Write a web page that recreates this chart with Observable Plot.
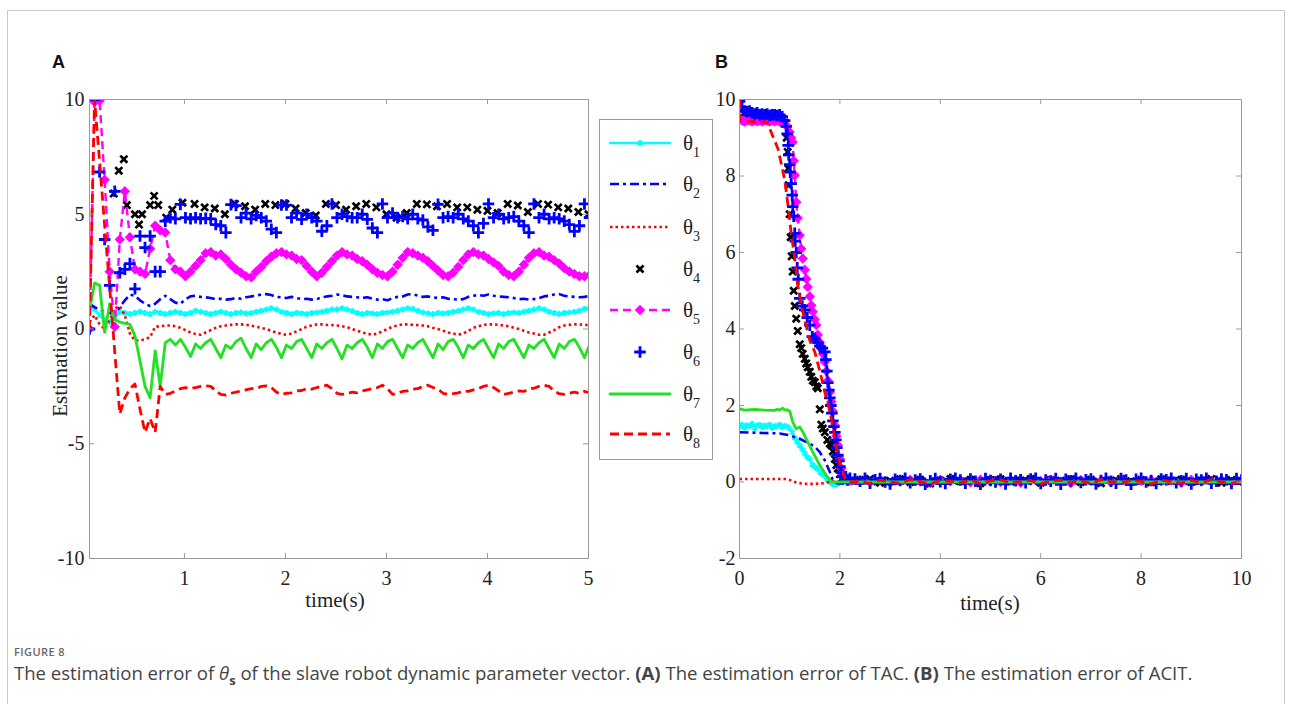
<!DOCTYPE html>
<html><head><meta charset="utf-8">
<script src="https://cdn.jsdelivr.net/npm/d3@7"></script>
<script src="https://cdn.jsdelivr.net/npm/@observablehq/plot@0.6"></script>
<style>
html,body{margin:0;padding:0;background:#fff;}
#root{position:relative;width:1293px;height:704px;overflow:hidden;background:#fff;}
#frame{position:absolute;left:7px;top:10px;width:1278px;height:700px;border:1px solid #c9c9c9;box-sizing:border-box;}
.abs{position:absolute;}
.panel{position:absolute;font:bold 18px "Liberation Sans",Arial,sans-serif;color:#111;}
.serif{font-family:"Liberation Serif","Times New Roman",serif;color:#222;}
#legend{position:absolute;left:599px;top:119px;width:114px;height:341px;border:1px solid #9a9a9a;box-sizing:border-box;background:#fff;}
#figlab{position:absolute;left:14px;top:646px;font:600 11px "Open Sans",sans-serif;line-height:12px;color:#666;letter-spacing:0.4px;}
#caption{position:absolute;left:14px;top:664px;font:16px "Open Sans",sans-serif;line-height:17px;color:#444;white-space:nowrap;}
#caption sub{font-size:70%;line-height:0;}
</style></head>
<body><div id="root">
<div id="frame"></div>
<div class="panel" style="left:52px;top:52px">A</div>
<div class="panel" style="left:715px;top:52px">B</div>
<div id="plotA" class="abs" style="left:0;top:0"></div>
<div id="plotB" class="abs" style="left:700px;top:0"></div>
<div id="legend"></div>
<div class="abs serif" style="left:60px;top:346px;font-size:21px;transform:translate(-50%,-50%) rotate(-90deg);white-space:nowrap">Estimation value</div>
<div class="abs serif" style="left:335px;top:600px;font-size:21px;transform:translate(-50%,-50%);white-space:nowrap">time(s)</div>
<div class="abs serif" style="left:990px;top:603px;font-size:21px;transform:translate(-50%,-50%);white-space:nowrap">time(s)</div>
<div id="figlab">FIGURE 8</div>
<div id="caption">The estimation error of <i>θ</i><sub><b>s</b></sub> of the slave robot dynamic parameter vector. <b>(A)</b> The estimation error of TAC. <b>(B)</b> The estimation error of ACIT.</div>
</div>
<script>
// ---------------- Panel A data (sample grid t = 0.06 + 0.05 i) ----------------
const tA = d3.range(100).map(i => +(0.06 + 0.05 * i).toFixed(2));
const theta1A = [1.0,0.85,0.6,0.4,0.3,0.5,0.75,0.7,0.65,0.7, 0.75,0.7,0.65,0.75,0.7,0.65,0.7,0.75,0.7,0.65, 0.7,0.8,0.75,0.7,0.65,0.7,0.75,0.7,0.65,0.7, 0.72,0.68,0.7,0.75,0.8,0.85,0.9,0.85,0.75,0.7, 0.65,0.7,0.68,0.65,0.7,0.72,0.75,0.8,0.85,0.85, 0.9,0.85,0.78,0.7,0.65,0.7,0.68,0.65,0.7,0.72, 0.75,0.8,0.85,0.9,0.88,0.8,0.72,0.68,0.65,0.7, 0.68,0.7,0.75,0.78,0.85,0.9,0.85,0.75,0.7,0.65, 0.68,0.7,0.65,0.7,0.72,0.7,0.75,0.8,0.85,0.9, 0.85,0.75,0.7,0.65,0.7,0.72,0.75,0.8,0.88,0.9];
const theta2A = [1.1,0.95,0.85,0.75,0.7,0.65,0.95,1.25,1.5,1.45, 1.25,1.1,1.0,1.1,1.3,1.45,1.3,1.15,1.1,1.3, 1.42,1.45,1.4,1.38,1.35,1.3,1.32,1.28,1.3,1.35, 1.32,1.38,1.42,1.45,1.5,1.52,1.48,1.4,1.38,1.35, 1.4,1.35,1.3,1.32,1.28,1.3,1.38,1.42,1.45,1.5, 1.48,1.42,1.4,1.38,1.35,1.38,1.32,1.28,1.3,1.25, 1.35,1.4,1.42,1.5,1.52,1.45,1.4,1.42,1.38,1.35, 1.38,1.32,1.3,1.28,1.3,1.4,1.45,1.48,1.45,1.5, 1.45,1.42,1.4,1.38,1.35,1.3,1.32,1.28,1.3,1.35, 1.42,1.45,1.5,1.52,1.45,1.42,1.4,1.38,1.4,1.45];
const theta3A = [0.3,0.6,0.2,0.0,0.4,0.9,1.0,0.6,-0.2,-0.5, -0.5,-0.45,-0.35,0.1,0.12,0.15,0.15,0.12,0.05,-0.05, -0.15,-0.22,-0.25,-0.15,-0.05,0.05,0.12,0.15,0.18,0.2, 0.2,0.18,0.15,0.1,0.05,0.0,-0.08,-0.15,-0.22,-0.25, -0.2,-0.1,0.0,0.1,0.15,0.2,0.2,0.18,0.17,0.15, 0.12,0.08,0.0,-0.08,-0.15,-0.2,-0.25,-0.2,-0.1,0.0, 0.1,0.15,0.2,0.2,0.18,0.17,0.15,0.12,0.05,0.0, -0.08,-0.15,-0.2,-0.25,-0.2,-0.08,0.05,0.12,0.18,0.2, 0.2,0.18,0.15,0.12,0.05,0.0,-0.08,-0.15,-0.2,-0.25, -0.25,-0.15,-0.05,0.08,0.15,0.18,0.2,0.2,0.18,0.17];
const t4A = [0.30,0.35,0.40,0.43,0.51,0.55,0.58,0.66,0.70,0.74,0.82,0.88,0.98, 1.1,1.2,1.3,1.4,1.5,1.6,1.7,1.8,1.9,2.0, 2.1,2.2,2.3,2.4,2.5,2.6,2.7,2.8,2.9,3.0, 3.1,3.2,3.3,3.4,3.5,3.6,3.7,3.8,3.9,4.0, 4.1,4.2,4.3,4.4,4.5,4.6,4.7,4.8,4.9,5.0];
const theta4A = [5.9,6.9,7.4,5.4,5.0,4.55,5.0,5.4,5.8,5.4,4.85,5.2,5.5, 5.45,5.3,5.25,5.0,5.45,5.35,5.2,5.45,5.4,5.45, 5.25,5.05,4.95,5.45,5.4,5.2,5.35,5.45,5.3,5.0, 4.85,5.05,5.45,5.43,5.35,5.45,5.3,5.3,5.2,5.15, 5.05,5.45,5.38,5.1,5.45,5.42,5.3,5.25,5.1,5.0];
const theta5A = [0,9.9,9.95,6.5,2.5,0.1,3.9,6.0,4.0,2.6, 2.5,2.4,3.5,4.5,4.3,4.2,3.0,2.6,2.5,2.3, 2.5,2.75,3.0,3.3,3.35,3.2,3.25,3.05,2.8,2.6, 2.45,2.3,2.25,2.5,2.7,2.95,3.15,3.3,3.35,3.25, 3.2,3.05,3.0,2.75,2.5,2.3,2.45,2.7,2.95,3.2, 3.35,3.25,3.2,3.05,2.95,2.8,2.6,2.45,2.35,2.3, 2.5,2.8,3.1,3.35,3.3,3.2,3.1,2.95,2.75,2.55, 2.35,2.3,2.45,2.7,3.0,3.25,3.35,3.25,3.2,3.05, 2.9,2.75,2.5,2.35,2.3,2.5,2.8,3.1,3.3,3.35, 3.2,3.15,3.0,2.85,2.65,2.5,2.4,2.3,2.3,2.35];
const theta6A = [0,10,6.84,3.9,1.9,6.0,2.45,2.6,2.85,1.75, 4.05,3.55,4.05,2.5,2.5,4.7,4.85,4.8,5.43,4.85, 4.8,4.85,4.8,4.82,4.8,4.55,4.5,4.2,5.42,5.38, 4.85,5.05,4.8,4.95,4.85,4.7,4.35,4.2,5.4,5.4, 4.85,5.05,4.78,5.0,4.85,4.7,4.26,4.5,5.45,4.85, 5.0,4.9,4.85,4.85,5.0,4.78,4.4,4.2,5.45,4.85, 5.05,4.85,4.9,4.8,5.0,4.8,4.75,4.45,4.3,5.43, 4.85,4.9,4.85,5.0,4.8,4.7,4.5,4.2,4.6,5.45, 4.85,5.0,4.8,4.85,4.9,4.7,4.5,4.2,5.45,4.85, 5.0,4.8,4.85,4.8,4.7,4.55,4.25,4.5,5.45,4.85];
const theta7A = [0.8,2.0,1.9,-0.15,1.1,0.4,0.3,0.25,0.2,-0.3, -1.4,-2.5,-3.0,-0.95,-2.5,-0.6,-0.45,-0.7,-0.45,-0.8,
 -1.2,-0.65,-0.85,-0.6,-0.45,-0.85, -1.25,-0.7,-0.85,-0.55,-0.4,-0.85, -1.25,-0.65,-0.9,-0.6,-0.45,-0.8,
 -1.25,-0.7,-0.85,-0.55,-0.45,-0.85, -1.25,-0.65,-0.85,-0.6,-0.45,-0.85, -1.3,-0.7,-0.85,-0.6,-0.45,-0.8,
 -1.25,-0.65,-0.85,-0.55,-0.45,-0.85, -1.25,-0.7,-0.85,-0.6,-0.45,-0.85, -1.25,-0.65,-0.9,-0.55,-0.45,-0.8,
 -1.25,-0.7,-0.85,-0.6,-0.45,-0.85, -1.25,-0.65,-0.85,-0.55,-0.45,-0.85, -1.25,-0.7,-0.85,-0.6,-0.45,-0.85,
 -1.25,-0.65,-0.85,-0.55,-0.45,-0.8, -1.25,-0.7];
const theta8A = [0,10,7.3,4.5,1.8,-1.0,-3.7,-3.0,-2.6,-2.4, -3.5,-4.5,-3.9,-4.5,-2.5,-2.85,-2.8,-2.7,-2.6,-2.55,
 -2.6,-2.55,-2.5,-2.48,-2.5,-2.7,-2.85,-2.88,-2.8,-2.75, -2.7,-2.65,-2.6,-2.6,-2.5,-2.48,-2.55,-2.75,-2.85,-2.8,
 -2.78,-2.7,-2.68,-2.6,-2.62,-2.55,-2.5,-2.45,-2.6,-2.8, -2.85,-2.82,-2.75,-2.78,-2.7,-2.65,-2.6,-2.55,-2.45,-2.6,
 -2.85,-2.8,-2.72,-2.7,-2.62,-2.6,-2.5,-2.45,-2.55,-2.62, -2.8,-2.85,-2.82,-2.78,-2.7,-2.72,-2.65,-2.6,-2.5,-2.45,
 -2.55,-2.7,-2.85,-2.8,-2.75,-2.7,-2.72,-2.62,-2.58,-2.5, -2.45,-2.5,-2.7,-2.82,-2.85,-2.8,-2.75,-2.8,-2.72,-2.78];
const xDomainA = [0.06, 5], yDomainA = [-10, 10];
const xTicksA = [1, 2, 3, 4, 5], yTicksA = [-10, -5, 0, 5, 10];

// ---------------- Panel B data ----------------
const tB1 = d3.range(45).map(i => +(0.05 * i).toFixed(2)).concat([2.5,3,3.5,4,4.5,5,5.5,6,6.5,7,7.5,8,8.5,9,9.5,10]);
const theta1B = [1.45,1.5,1.42,1.48,1.45,1.52,1.4,1.47,1.5,1.43, 1.48,1.45,1.5,1.42,1.47,1.45,1.5,1.43,1.47,1.45,
 1.4,1.3,1.15,1.05,0.95,0.85,0.75,0.65,0.6,0.45, 0.4,0.35,0.25,0.2,0.15,0.05,0.0,-0.05,-0.08,-0.05, 0.0,0.0,0.0,0.0,0.0,
 0.0,0.02,-0.02,0.01,0.0,-0.01,0.02,0.0,-0.02,0.01,0.0,0.02,-0.01,0.0,0.01,0.0];
const tB2 = [0,0.5,0.8,1.0,1.2,1.4,1.5,1.6,1.7,1.8,1.86,1.95,10];
const theta2B = [1.3,1.28,1.27,1.22,1.13,1.0,0.92,0.78,0.57,0.26,0.04,-0.04,-0.04];
const tB3 = [0,0.5,0.9,1.0,1.15,1.3,1.5,1.7,1.85,2.0,10];
const theta3B = [0.08,0.08,0.08,0.05,-0.02,-0.05,-0.05,-0.03,0.02,0.0,0.0];
const tSteady = [2.4,2.6,2.8,3.0,3.2,3.4,3.6,3.8,4.0,4.2,4.4,4.6,4.8,5.0,5.2,5.4,5.6,5.8,6.0,6.2,6.4,6.6,6.8,7.0,7.2,7.4,7.6,7.8,8.0,8.2,8.4,8.6,8.8,9.0,9.2,9.4,9.6,9.8,10.0];
const tB4 = [0,0.1,0.2,0.3,0.4,0.5,0.6,0.7,0.8,0.9, 0.94,0.96,0.97,0.98,1.0,1.02,1.04,1.06,1.08,1.1, 1.13,1.16,1.2,1.23,1.26,1.3,1.33,1.36,1.4,1.43, 1.46,1.5,1.53,1.56,1.6,1.63,1.66,1.7,1.75,1.8, 1.83,1.86,1.9,1.93,1.96,2.0,2.05,2.1,2.2].concat(tSteady);
const theta4B = [9.9,9.65,9.6,9.6,9.58,9.6,9.58,9.6,9.55,9.4, 9.0,8.63,8.2,7.76,7.0,6.4,5.9,5.5,5.0,4.6, 4.27,3.95,3.6,3.5,3.35,3.22,3.1,3.0,2.88,2.75, 2.65,2.61,2.5,2.45,1.9,1.5,1.4,1.3,1.1,1.0, 0.96,0.8,0.6,0.44,0.35,0.2,0.1,0.05,0.03,
 0.05,0.08,-0.02,0.03,0.07,0.0,0.06,-0.04,0.04,0.08, 0.02,0.06,-0.03,0.05,0.07,0.01,0.04,0.08,-0.02,0.05, 0.03,0.07,0.0,0.06,-0.03,0.04,0.08,0.02,0.05,-0.01, 0.07,0.03,0.06,0.0,0.04,0.08,-0.02,0.05,0.03];
const tB5 = [0,0.05,0.1,0.15,0.2,0.25,0.3,0.35,0.4,0.45,0.5,0.55,0.6,0.65,0.7,0.75,0.8,0.85,0.9,
 0.95,1.0,1.03,1.06,1.08,1.1,1.13,1.16,1.2,1.23, 1.26,1.3,1.33,1.36,1.4,1.43,1.46,1.5,1.53,1.56, 1.6,1.63,1.66,1.7,1.73,1.76,1.8,1.83,1.86,1.9, 1.93,1.96,2.0,2.03,2.06,2.1,2.15,2.2].concat(tSteady);
const theta5B = [9.5,9.45,9.42,9.45,9.45,9.42,9.45,9.43,9.45,9.42,9.45,9.45,9.42,9.45,9.43,9.45,9.42,9.4,9.35,
 9.3,9.15,9.0,8.89,8.4,8.02,7.32,6.9,6.45,6.1, 5.84,5.55,5.31,5.1,4.85,4.62,4.45,4.25,4.1,3.85, 3.65,3.49,3.35,3.14,2.9,2.65,2.35,2.1,1.85,1.48, 1.2,0.96,0.6,0.35,0.2,0.1,0.05,0.03,
 0.03,0.0,0.05,-0.02,0.04,0.06,0.01,-0.03,0.05,0.02, 0.04,-0.01,0.06,0.03,0.0,0.05,-0.02,0.04,0.02,0.06, 0.01,-0.03,0.05,0.03,0.04,0.0,0.06,-0.01,0.03,0.05, 0.02,0.04,-0.02,0.06,0.01,0.03,0.05,0.0,0.04];
const tB6 = [0,0.05,0.1,0.15,0.2,0.25,0.3,0.35,0.4,0.45,0.5,0.55,0.6,0.65,0.7,0.75,0.8,0.85,0.9,
 0.93,0.95,0.97,0.98,1.0,1.01,1.03,1.05,1.06,1.08,1.1,1.11,1.13,1.15,1.17,1.2,
 1.25,1.3,1.35,1.4,1.45,1.5,1.55,1.6,1.65,1.7,
 1.72,1.74,1.76,1.78,1.8,1.82,1.84,1.86,1.88,1.9,1.92,1.94,1.96,1.98,2.0,
 2.03,2.06,2.1,2.15,2.2].concat(d3.range(78).map(k => +(2.3 + 0.1 * k).toFixed(1)));
const theta6B = [9.95,9.8,9.7,9.68,9.7,9.65,9.62,9.65,9.6,9.62,9.6,9.62,9.58,9.6,9.6,9.58,9.6,9.55,9.45,
 9.3,9.1,8.8,8.55,8.3,8.1,7.8,7.5,7.2,6.95,6.5,6.3,6.0,5.6,5.3,4.8,
 4.6,4.5,4.3,4.1,3.8,3.75,3.65,3.55,3.5,3.4,
 3.2,2.9,2.6,2.4,2.2,2.0,1.8,1.6,1.45,1.3,1.1,0.9,0.7,0.55,0.4,
 0.25,0.15,0.1,0.05,0.1,
 0.08,0.02,0.1,-0.03,0.06,0.09,0.0,-0.05,0.07,0.04, 0.1,-0.02,0.05,0.08,-0.06,0.03,0.09,0.01,-0.04,0.07,
 0.1,0.05,-0.03,0.08,0.02,-0.06,0.09,0.04,0.0,0.07, -0.05,0.1,0.03,0.06,-0.02,0.08,0.1,-0.04,0.05,0.02,
 0.09,-0.06,0.07,0.03,0.1,-0.01,0.06,0.08,-0.05,0.04, 0.1,0.02,-0.03,0.09,0.05,-0.06,0.07,0.1,0.0,0.04,
 -0.04,0.08,0.06,0.1,-0.02,0.03,0.09,-0.05,0.07,0.05, 0.1,-0.03,0.02,0.08,0.06,-0.04,0.09,0.05];
const tB7 = [0,0.1,0.3,0.5,0.7,0.75,0.8,0.86,0.9,0.95,1.0,1.06,1.13,1.2,1.26,1.36,1.46,1.6,1.73,1.83,10];
const theta7B = [1.92,1.88,1.9,1.88,1.87,1.9,1.88,1.93,1.88,1.89,1.85,1.57,1.39,1.44,1.31,1.05,0.78,0.44,0.17,0.0,0.0];
const tB8 = [0,0.005,0.3,0.55,0.63,0.77,0.9,0.96,1.03,1.1,1.16,1.26,1.4,1.5,1.6,1.7,1.8,1.9,2.0,2.1,2.2].concat(tSteady);
const theta8B = [10,9.45,9.42,9.4,9.15,8.7,7.9,7.3,6.5,5.85,5.15,4.45,3.7,3.4,2.9,2.35,1.85,1.15,0.45,0.1,0.0,
 0.02,-0.04,0.05,0.0,-0.03,0.06,0.01,-0.05,0.04,0.02, -0.02,0.05,-0.04,0.03,0.06,-0.03,0.01,0.04,-0.05,0.02,
 0.05,-0.02,0.03,-0.04,0.06,0.0,-0.03,0.04,0.02,-0.05, 0.05,0.01,-0.03,0.04,-0.02,0.06,0.0,-0.04,0.03];
const xDomainB = [0, 10], yDomainB = [-2, 10];
const xTicksB = [0, 2, 4, 6, 8, 10], yTicksB = [-2, 0, 2, 4, 6, 8, 10];

const labels = ["1","2","3","4","5","6","7","8"];
const colors = ["#00ffff","#0000ff","#ff0000","#000000","#ff00ff","#0000ff","#22e022","#ff0000"];

// ---------------- styles ----------------
const LW = 2.6;
const lineStyle = {
  1: {stroke: colors[0], strokeWidth: 2.4},
  2: {stroke: colors[1], strokeWidth: LW, strokeDasharray: "9,4,3,4", strokeLinecap: "butt"},
  3: {stroke: colors[2], strokeWidth: LW, strokeDasharray: "2.5,3", strokeLinecap: "butt"},
  5: {stroke: colors[4], strokeWidth: 2.4, strokeDasharray: "8,5", strokeLinecap: "butt"},
  7: {stroke: colors[6], strokeWidth: 2.8},
  8: {stroke: colors[7], strokeWidth: 2.8, strokeDasharray: "9,5", strokeLinecap: "butt"}
};
const dotStyle = {
  1: {symbol: "asterisk", r: 2.8, stroke: colors[0], strokeWidth: 1.9, fill: "none"},
  4: {symbol: "times", r: 3.3, stroke: colors[3], strokeWidth: 2.7, fill: "none"},
  5: {symbol: "diamond2", r: 3.9, stroke: colors[4], fill: colors[4], strokeWidth: 1.2},
  6: {symbol: "plus", r: 3.8, stroke: colors[5], strokeWidth: 2.8, fill: "none"}
};
const zip = (ts, vs) => ts.map((t, i) => ({t, v: vs[i]}));

function seriesMarks(n, data) {
  const m = [];
  if (lineStyle[n]) m.push(Plot.line(data, {x: "t", y: "v", clip: true, strokeLinejoin: "round", ...lineStyle[n]}));
  if (dotStyle[n]) m.push(Plot.dot(data, {x: "t", y: "v", clip: true, ...dotStyle[n]}));
  return m;
}

function makePlot(cfg) {
  const FW = cfg.width - cfg.ml - cfg.mr, FH = cfg.height - cfg.mt - cfg.mb;
  const marks = [];
  cfg.series.forEach((d, i) => marks.push(...seriesMarks(i + 1, d)));
  marks.push(
    Plot.frame({stroke: "#9a9a9a", strokeWidth: 1}),
    Plot.tickX(cfg.xTicks, {x: d => d, insetTop: FH - 5, stroke: "#9a9a9a"}),
    Plot.tickX(cfg.xTicks, {x: d => d, insetBottom: FH - 5, stroke: "#9a9a9a"}),
    Plot.tickY(cfg.yTicks, {y: d => d, insetRight: FW - 5, stroke: "#9a9a9a"}),
    Plot.tickY(cfg.yTicks, {y: d => d, insetLeft: FW - 5, stroke: "#9a9a9a"}),
    Plot.axisX(cfg.xTicks, {anchor: "bottom", tickSize: 0, tickPadding: 12, fontSize: 20, label: null, tickFormat: d => String(d), fill: "#222"}),
    Plot.axisY(cfg.yTicks, {anchor: "left", tickSize: 0, tickPadding: cfg.yPad, fontSize: 20, label: null, tickFormat: d => String(d), fill: "#222"})
  );
  return Plot.plot({
    width: cfg.width, height: cfg.height,
    marginLeft: cfg.ml, marginRight: cfg.mr, marginTop: cfg.mt, marginBottom: cfg.mb,
    x: {domain: cfg.xDomain, label: null},
    y: {domain: cfg.yDomain, label: null},
    style: {fontFamily: "'Liberation Serif','Times New Roman',serif", fontSize: "20px", color: "#222", background: "transparent", overflow: "visible"},
    marks
  });
}

const seriesA = [theta1A, theta2A, theta3A, null, theta5A, theta6A, theta7A, theta8A].map(v => v && zip(tA, v));
seriesA[3] = zip(t4A, theta4A);
document.getElementById("plotA").appendChild(makePlot({
  width: 600, height: 620, ml: 89, mr: 12, mt: 99, mb: 62, yPad: 5,
  xDomain: xDomainA, yDomain: yDomainA, xTicks: xTicksA, yTicks: yTicksA, series: seriesA
}));

const seriesB = [zip(tB1, theta1B), zip(tB2, theta2B), zip(tB3, theta3B), zip(tB4, theta4B),
  zip(tB5, theta5B), zip(tB6, theta6B), zip(tB7, theta7B), zip(tB8, theta8B)];
document.getElementById("plotB").appendChild(makePlot({
  width: 560, height: 620, ml: 39, mr: 19, mt: 99, mb: 62, yPad: 4,
  xDomain: xDomainB, yDomain: yDomainB, xTicks: xTicksB, yTicks: yTicksB, series: seriesB
}));

// ---------------- legend ----------------
const legendY = [23, 64, 107, 149, 190, 232, 274, 314];
const svg = d3.select("#legend").append("svg").attr("width", 112).attr("height", 339).style("display", "block");
const symArea = r => Math.PI * r * r;
const symType = {asterisk: d3.symbolAsterisk, times: d3.symbolTimes, diamond2: d3.symbolDiamond2, plus: d3.symbolPlus};
labels.forEach((lab, i) => {
  const n = i + 1, y = legendY[i];
  const ls = lineStyle[n], ds = dotStyle[n];
  if (ls) {
    svg.append("line").attr("x1", 10).attr("x2", 70).attr("y1", y).attr("y2", y)
      .attr("stroke", ls.stroke).attr("stroke-width", ls.strokeWidth)
      .attr("stroke-dasharray", ls.strokeDasharray || null).attr("stroke-linecap", ls.strokeLinecap || "round");
  }
  if (ds) {
    svg.append("path").attr("transform", `translate(40,${y})`)
      .attr("d", d3.symbol(symType[ds.symbol], symArea(ds.r))())
      .attr("stroke", ds.stroke).attr("stroke-width", ds.strokeWidth).attr("fill", ds.fill);
  }
  const tx = svg.append("text").attr("x", 83).attr("y", y + 7)
    .attr("font-family", "'Liberation Serif','Times New Roman',serif").attr("font-size", 21).attr("fill", "#222");
  tx.append("tspan").text("θ");
  tx.append("tspan").attr("font-size", 14).attr("dy", 7).text(lab);
});

// fit caption width to the reference
const cap = document.getElementById("caption");
const w = cap.getBoundingClientRect().width;
cap.style.fontSize = (16 * 1179 / w).toFixed(2) + "px";
</script>
</body></html>
